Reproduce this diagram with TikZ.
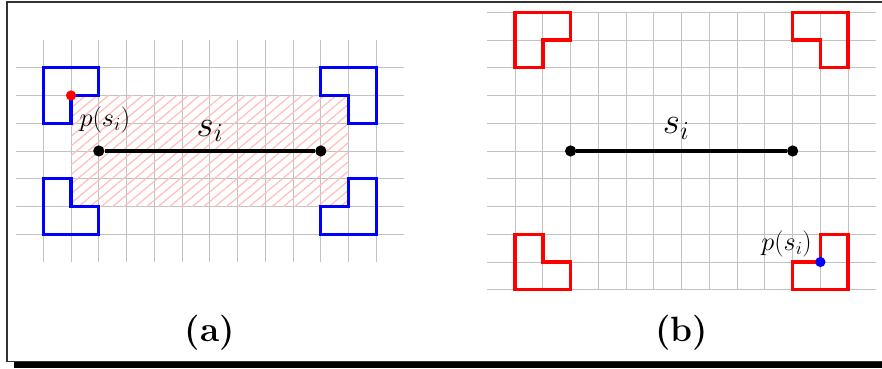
\RequirePackage{fix-cm}
\documentclass[tikz,border=0pt]{standalone}
\usepackage{amsmath,amssymb}
\usetikzlibrary{patterns.meta}

\begin{document}
\begin{tikzpicture}[
  gridline/.style={black!24,line width=0.9pt},
  lshape/.style={line width=3.4pt},
  endpt/.style={shape=circle,fill=black,inner sep=0pt,minimum size=11.5pt},
  hitpt/.style={shape=circle,inner sep=0pt,minimum size=10.5pt},
  seg/.style={line width=3.3pt},
  lbl/.style={font=\fontsize{27}{31}\selectfont},
  seglbl/.style={font=\fontsize{38}{42}\selectfont},
  panellbl/.style={font=\fontsize{36}{41}\selectfont\bfseries}
]

\useasboundingbox (-1.56,-4.82) rectangle (30.22,8.44);

\draw[black!80,line width=1.2pt] (30.22,8.37) -- (-1.31,8.37) -- (-1.31,-4.58) -- (30.22,-4.58);
\fill[black] (-1.06,-4.62) rectangle (30.22,-4.82);

\foreach \x in {0,...,12} \draw[gridline] (\x,-1) -- (\x,7);
\foreach \y in {0,...,6} \draw[gridline] (-1,\y) -- (13,\y);
\fill[pattern={Lines[angle=40,distance=7.5pt,line width=1.3pt]},pattern color=pink] (1,1) rectangle (11,5);

\draw[lshape,blue] (0,4) -- (0,6) -- (2,6) -- (2,5) -- (1,5) -- (1,4) -- cycle;
\draw[lshape,blue] (10,6) -- (12,6) -- (12,4) -- (11,4) -- (11,5) -- (10,5) -- cycle;
\draw[lshape,blue] (0,2) -- (1,2) -- (1,1) -- (2,1) -- (2,0) -- (0,0) -- cycle;
\draw[lshape,blue] (11,2) -- (12,2) -- (12,0) -- (10,0) -- (10,1) -- (11,1) -- cycle;

\node[endpt] (A1) at (2,3) {};
\node[endpt] (A2) at (10,3) {};
\path[seg] (A1) edge (A2);
\node[hitpt,fill=red] (PA) at (1,5) {};

\node[seglbl] (SA) at (6,3.72) {$s_i$};
\node[lbl] (LA) at (2.22,4.12) {$p(s_i)$};
\node[panellbl] (CA) at (6,-3.56) {(a)};

\begin{scope}[shift={(17,-2)}]
\foreach \x in {0,...,12} \draw[gridline] (\x,0) -- (\x,10);
\foreach \y in {0,...,10} \draw[gridline] (-1,\y) -- (13,\y);

\draw[lshape,red] (0,10) -- (2,10) -- (2,9) -- (1,9) -- (1,8) -- (0,8) -- cycle;
\draw[lshape,red] (10,10) -- (12,10) -- (12,8) -- (11,8) -- (11,9) -- (10,9) -- cycle;
\draw[lshape,red] (0,2) -- (1,2) -- (1,1) -- (2,1) -- (2,0) -- (0,0) -- cycle;
\draw[lshape,red] (11,2) -- (12,2) -- (12,0) -- (10,0) -- (10,1) -- (11,1) -- cycle;

\node[endpt] (B1) at (2,5) {};
\node[endpt] (B2) at (10,5) {};
\path[seg] (B1) edge (B2);
\node[hitpt,fill=blue] (PB) at (11,1) {};

\node[seglbl] (SB) at (5.8,5.8) {$s_i$};
\node[lbl] (LB) at (9.78,1.65) {$p(s_i)$};
\node[panellbl] (CB) at (6,-1.56) {(b)};
\end{scope}

\end{tikzpicture}
\end{document}
